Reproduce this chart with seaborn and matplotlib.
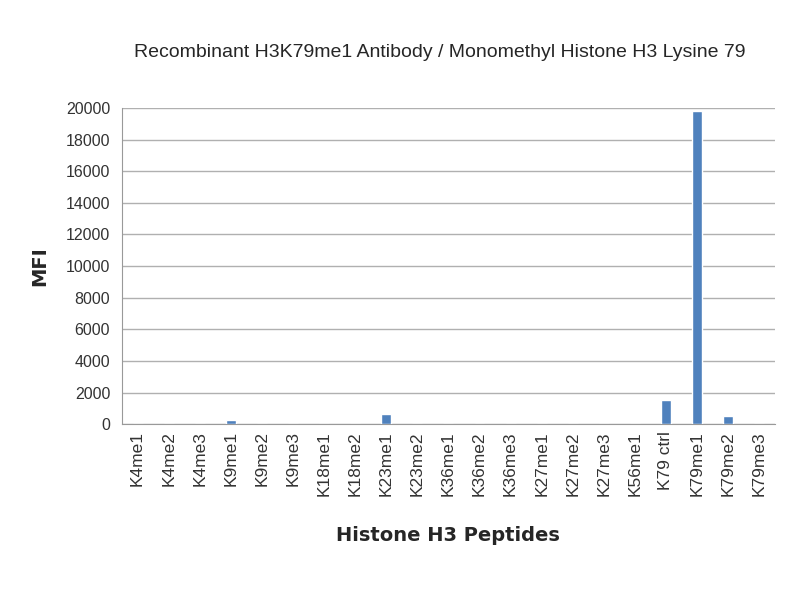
import seaborn as sns
import matplotlib.pyplot as plt
import pandas as pd

peptides = ["K4me1", "K4me2", "K4me3", "K9me1", "K9me2", "K9me3", "K18me1", "K18me2",
            "K23me1", "K23me2", "K36me1", "K36me2", "K36me3", "K27me1", "K27me2",
            "K27me3", "K56me1", "K79 ctrl", "K79me1", "K79me2", "K79me3"]
mfi = [10, 10, 10, 250, 10, 10, 10, 10, 650, 10, 10, 10, 10, 10, 10, 10, 10,
       1500, 19800, 550, 10]

df = pd.DataFrame({"Peptide": peptides, "MFI": mfi})

sns.set_style("white")
plt.rcParams['font.family'] = ['Liberation Sans', 'DejaVu Sans']

fig = plt.figure(figsize=(8, 6), dpi=100)
ax = fig.add_axes([0.1525, 0.293, 0.816, 0.527])
sns.barplot(x="Peptide", y="MFI", data=df, color="#4F81BD", width=0.32,
            saturation=1, ax=ax, zorder=3)

ax.set_ylim(0, 20000)
ax.set_yticks(range(0, 20001, 2000))
ax.yaxis.grid(True, color="#b0b0b0", linewidth=1, zorder=0)
ax.set_xlim(-0.5, len(peptides) - 0.5)
ax.set_xticks([i - 0.5 for i in range(len(peptides) + 1)], minor=True)
ax.tick_params(axis="x", which="minor", length=6, color="#999999", width=1)
ax.tick_params(axis="x", which="major", length=0, labelrotation=90, labelsize=12.5,
               labelcolor="#333333", pad=5)
ax.tick_params(axis="y", length=5, color="#999999", labelsize=11.5, labelcolor="#333333")
for side in ["top", "right"]:
    ax.spines[side].set_visible(False)
for side in ["left", "bottom"]:
    ax.spines[side].set_color("#999999")

ax.set_xlabel("Histone H3 Peptides", fontsize=14, fontweight="bold",
              family=["DejaVu Sans"], labelpad=22)
ax.set_ylabel("MFI", fontsize=14, fontweight="bold", family=["DejaVu Sans"], labelpad=12)
fig.text(0.55, 0.912, "Recombinant H3K79me1 Antibody / Monomethyl Histone H3 Lysine 79",
         ha="center", va="center", fontsize=14)

fig.savefig("out.png", dpi=100)
